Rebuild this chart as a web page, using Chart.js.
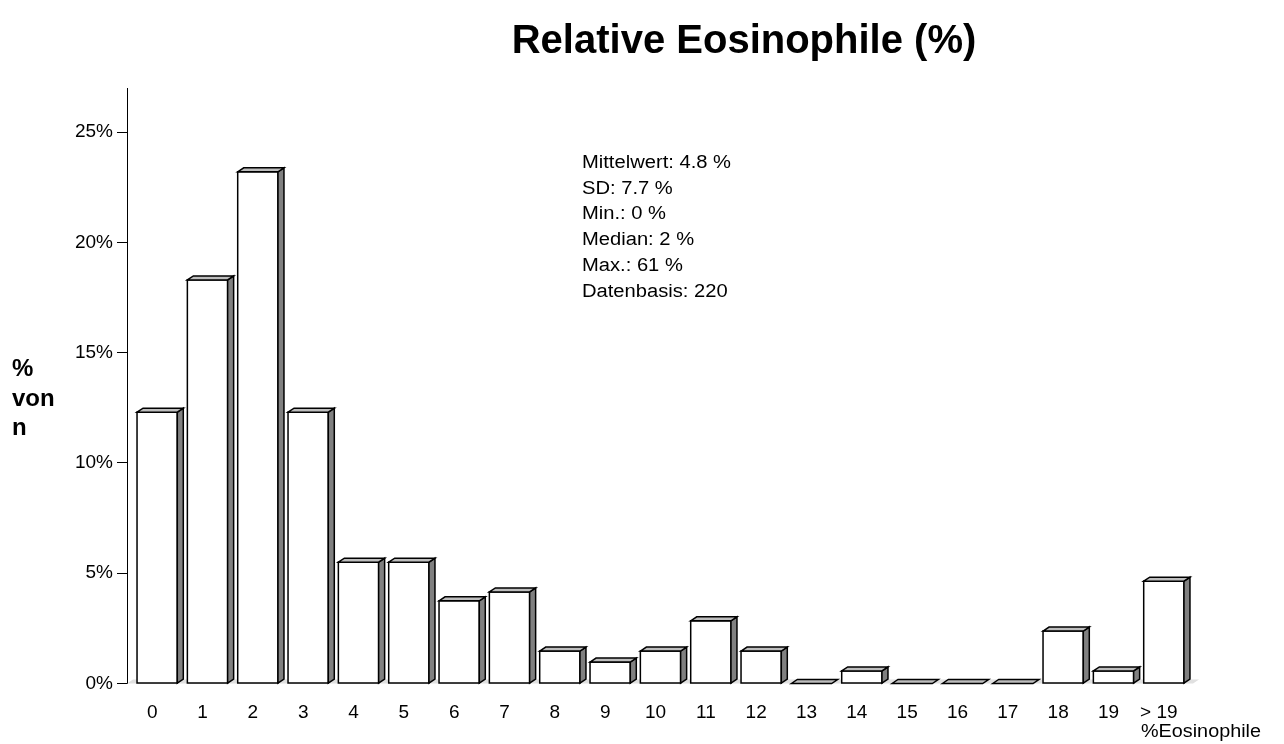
<!DOCTYPE html>
<html>
<head>
<meta charset="utf-8">
<script src="https://cdn.jsdelivr.net/npm/chart.js@4.4.1/dist/chart.umd.min.js"></script>
<style>
  html, body { margin: 0; padding: 0; background: #fff; }
  #wrap { width: 1284px; height: 744px; position: relative; }
</style>
</head>
<body>
<div id="wrap"><canvas id="eosChart"></canvas></div>
<script>
const categories = ['0', '1', '2', '3', '4', '5', '6', '7', '8', '9', '10',
    '11', '12', '13', '14', '15', '16', '17', '18', '19', '> 19'];
// share of patients per class, in percent
const shares = [12.3, 18.3, 23.2, 12.3, 5.5, 5.5, 3.75, 4.15, 1.47, 0.97, 1.47,
    2.84, 1.47, 0, 0.57, 0, 0, 0, 2.38, 0.57, 4.64];
const yTicks = [0, 5, 10, 15, 20, 25];
const statLines = ['Mittelwert: 4.8 %', 'SD: 7.7 %', 'Min.: 0 %', 'Median: 2 %',
    'Max.: 61 %', 'Datenbasis: 220'];
const chartTitle = 'Relative Eosinophile (%)';
const yTitle = ['%', 'von', 'n'];
const xTitle = '%Eosinophile';

const FONT = "'Liberation Sans', Arial, sans-serif";

function stretchedText(ctx, text, x, y, sx) {
    ctx.save();
    ctx.translate(x, y);
    ctx.scale(sx, 1);
    ctx.fillText(text, 0, 0);
    ctx.restore();
}

// draws the bars as little boxes (front, side, top) like the old office charts
const boxBars = {
    id: 'boxBars',
    beforeDatasetsDraw(chart) {
        const ctx = chart.ctx;
        const area = chart.chartArea;
        const b = chart.scales.y.getPixelForValue(0);
        ctx.save();
        ctx.fillStyle = '#e0e0e0';
        ctx.beginPath();
        ctx.moveTo(area.left, b);
        ctx.lineTo(area.left + 6, b - 4);
        ctx.lineTo(area.right + 15, b - 4);
        ctx.lineTo(area.right + 9, b);
        ctx.closePath();
        ctx.fill();
        ctx.restore();
    },
    afterDatasetsDraw(chart) {
        const ctx = chart.ctx;
        const dx = 6, dy = 4, shift = 5;
        ctx.save();
        ctx.strokeStyle = '#000';
        ctx.lineWidth = 1.5;
        ctx.lineJoin = 'miter';
        chart.getDatasetMeta(0).data.forEach(bar => {
            const p = bar.getProps(['x', 'y', 'base', 'width'], true);
            const L = p.x - p.width / 2 + shift;
            const R = L + p.width;
            const T = Math.min(p.y, p.base);
            const B = p.base;
            if (B - T > 0.5) {
                ctx.fillStyle = '#fff';
                ctx.fillRect(L, T, R - L, B - T);
                ctx.strokeRect(L, T, R - L, B - T);
                ctx.fillStyle = '#808080';
                ctx.beginPath();
                ctx.moveTo(R, B);
                ctx.lineTo(R, T);
                ctx.lineTo(R + dx, T - dy);
                ctx.lineTo(R + dx, B - dy);
                ctx.closePath();
                ctx.fill();
                ctx.stroke();
            }
            ctx.fillStyle = '#bdbdbd';
            ctx.beginPath();
            ctx.moveTo(L, T);
            ctx.lineTo(L + dx, T - dy);
            ctx.lineTo(R + dx, T - dy);
            ctx.lineTo(R, T);
            ctx.closePath();
            ctx.fill();
            ctx.stroke();
        });
        ctx.restore();
    },
    afterDraw(chart) {
        const ctx = chart.ctx;
        ctx.save();
        ctx.fillStyle = '#000';
        ctx.textBaseline = 'alphabetic';

        ctx.font = 'bold 40px ' + FONT;
        ctx.textAlign = 'center';
        ctx.fillText(chartTitle, 744, 53);

        ctx.textAlign = 'left';
        ctx.font = 'bold 24px ' + FONT;
        yTitle.forEach((t, i) => ctx.fillText(t, 12, 376 + i * 29.5));

        ctx.font = '18px ' + FONT;
        statLines.forEach((t, i) => stretchedText(ctx, t, 582, 168 + i * 25.7, 1.12));
        stretchedText(ctx, xTitle, 1141, 737, 1.1);
        ctx.restore();
    }
};

const ctx = document.getElementById('eosChart').getContext('2d');
const chart = new Chart(ctx, {
    type: 'bar',
    data: {
        labels: categories,
        datasets: [{
            data: shares,
            backgroundColor: 'rgba(0,0,0,0)',
            borderWidth: 0,
            barPercentage: 0.8,
            categoryPercentage: 1.0
        }]
    },
    options: {
        responsive: true,
        maintainAspectRatio: false,
        animation: false,
        layout: { padding: { top: 88, right: 100, left: 0, bottom: 0 } },
        plugins: {
            legend: { display: false },
            title: { display: false },
            tooltip: { enabled: false }
        },
        scales: {
            x: {
                grid: { display: false },
                border: { display: false },
                ticks: {
                    color: '#000',
                    font: { family: FONT, size: 19 },
                    padding: 10,
                    maxRotation: 0,
                    autoSkip: false
                },
                afterFit(scale) { scale.height = 60.5; }
            },
            y: {
                min: 0,
                max: 27,
                afterBuildTicks(scale) {
                    scale.ticks = yTicks.map(v => ({ value: v }));
                },
                afterFit(scale) { scale.width = 127; },
                grid: {
                    drawOnChartArea: false,
                    drawTicks: true,
                    tickLength: 10,
                    color: '#000',
                    lineWidth: 1
                },
                border: { display: true, color: '#000', width: 1 },
                ticks: {
                    color: '#000',
                    font: { family: FONT, size: 19 },
                    padding: 4,
                    callback: v => v + '%'
                }
            }
        }
    },
    plugins: [boxBars]
});
</script>
</body>
</html>
